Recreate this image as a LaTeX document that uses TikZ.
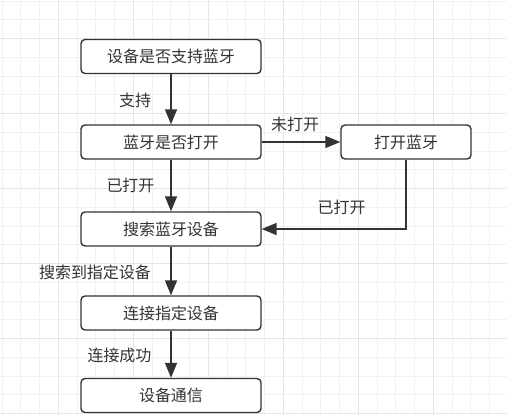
\documentclass[tikz,border=0pt]{standalone}
\usepackage{fontspec}
\setmainfont{Noto Sans CJK SC}
\usetikzlibrary{arrows.meta}
\definecolor{ink}{HTML}{333333}
\definecolor{gminor}{HTML}{F1F1F1}
\definecolor{gmajor}{HTML}{E6E6E6}
\begin{document}
\begin{tikzpicture}[x=1pt,y=-1pt,
  box/.style={draw=ink,line width=1.4pt,rounded corners=4pt,fill=white,
    minimum width=180pt,minimum height=34pt,inner sep=0pt,text=ink,
    font=\fontsize{16}{18}\selectfont},
  lbl/.style={text=ink,inner sep=0pt,font=\fontsize{16}{18}\selectfont},
  flow/.style={draw=ink,line width=1.5pt,-{Triangle[width=12pt,length=15pt]}}]
\useasboundingbox (0,0) rectangle (507,415);
\fill[white] (0,0) rectangle (507,415);
% grid
\foreach \k in {0,...,27}{
  \pgfmathsetmacro{\xx}{2+18.75*\k}
  \pgfmathtruncatemacro{\m}{mod(\k,4)}
  \ifnum\m=3
    \draw[gmajor,line width=1pt] (\xx,0) -- (\xx,415);
  \else
    \draw[gminor,line width=1pt] (\xx,0) -- (\xx,415);
  \fi
}
\foreach \k in {0,...,22}{
  \pgfmathsetmacro{\yy}{1+18.75*\k}
  \pgfmathtruncatemacro{\m}{mod(\k,4)}
  \ifnum\m=2
    \draw[gmajor,line width=1pt] (0,\yy) -- (507,\yy);
  \else
    \draw[gminor,line width=1pt] (0,\yy) -- (507,\yy);
  \fi
}
% boxes
\node[box] (b1) at (171,56.5) {设备是否支持蓝牙};
\node[box] (b2) at (171,142) {蓝牙是否打开};
\node[box,minimum width=130pt] (b3) at (406,142) {打开蓝牙};
\node[box] (b4) at (171,229) {搜索蓝牙设备};
\node[box] (b5) at (171,313) {连接指定设备};
\node[box] (b6) at (171,395.5) {设备通信};
% connectors
\draw[flow] (b1) -- (b2);
\draw[flow] (b2) -- (b3);
\draw[flow] (b2) -- (b4);
\draw[flow] (b3.south) |- (b4.east);
\draw[flow] (b4) -- (b5);
\draw[flow] (b5) -- (b6);
% labels
\node[lbl] (l1) at (135,100) {支持};
\node[lbl] (l2) at (295,124) {未打开};
\node[lbl] (l3) at (130.5,185) {已打开};
\node[lbl] (l4) at (341.5,207) {已打开};
\node[lbl] (l5) at (95,272) {搜索到指定设备};
\node[lbl] (l6) at (119.5,355) {连接成功};
\end{tikzpicture}
\end{document}
